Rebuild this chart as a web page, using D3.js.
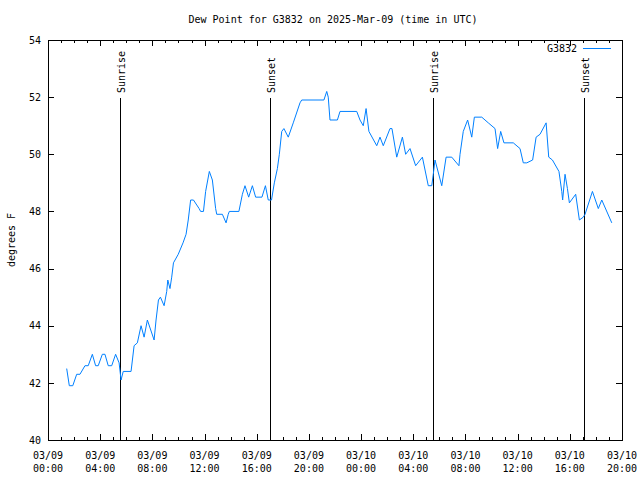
<!DOCTYPE html>
<html><head><meta charset="utf-8">
<script src="https://cdn.jsdelivr.net/npm/d3@7"></script>
<style>
html,body{margin:0;padding:0;background:#fff;}
svg{display:block;}
text{font-family:"DejaVu Sans Mono","Liberation Mono",monospace;font-size:10px;fill:#000;}
</style></head><body>
<svg id="c" width="640" height="480"></svg>
<script>
// ---- data ----
const times = [
"2025-03-09 01:26","2025-03-09 01:38","2025-03-09 01:54","2025-03-09 02:12","2025-03-09 02:27","2025-03-09 02:50",
"2025-03-09 03:05","2025-03-09 03:24","2025-03-09 03:39","2025-03-09 03:51","2025-03-09 04:10","2025-03-09 04:22",
"2025-03-09 04:37","2025-03-09 04:53","2025-03-09 05:11","2025-03-09 05:27","2025-03-09 05:36","2025-03-09 05:46",
"2025-03-09 06:22","2025-03-09 06:36","2025-03-09 06:51","2025-03-09 07:08","2025-03-09 07:22","2025-03-09 07:37",
"2025-03-09 08:08","2025-03-09 08:17","2025-03-09 08:28","2025-03-09 08:37","2025-03-09 08:54","2025-03-09 09:06",
"2025-03-09 09:11","2025-03-09 09:21","2025-03-09 09:29","2025-03-09 09:37","2025-03-09 09:59","2025-03-09 10:21",
"2025-03-09 10:35","2025-03-09 10:45","2025-03-09 10:56","2025-03-09 11:09","2025-03-09 11:35","2025-03-09 11:42",
"2025-03-09 11:55","2025-03-09 12:05","2025-03-09 12:22","2025-03-09 12:36","2025-03-09 12:51","2025-03-09 12:56",
"2025-03-09 13:22","2025-03-09 13:39","2025-03-09 13:49","2025-03-09 13:54","2025-03-09 14:38","2025-03-09 14:54",
"2025-03-09 15:06","2025-03-09 15:23","2025-03-09 15:40","2025-03-09 15:55","2025-03-09 16:24","2025-03-09 16:40",
"2025-03-09 16:53","2025-03-09 17:08","2025-03-09 17:21","2025-03-09 17:35","2025-03-09 17:44","2025-03-09 17:55",
"2025-03-09 18:05","2025-03-09 18:25","2025-03-09 18:48","2025-03-09 19:19","2025-03-09 19:27","2025-03-09 21:09",
"2025-03-09 21:22","2025-03-09 21:29","2025-03-09 21:37","2025-03-09 22:11","2025-03-09 22:23","2025-03-09 23:40",
"2025-03-09 23:55","2025-03-10 00:10","2025-03-10 00:23","2025-03-10 00:36","2025-03-10 01:12","2025-03-10 01:27",
"2025-03-10 01:42","2025-03-10 02:13","2025-03-10 02:22","2025-03-10 02:44","2025-03-10 03:10","2025-03-10 03:25",
"2025-03-10 03:45","2025-03-10 04:11","2025-03-10 04:42","2025-03-10 05:09","2025-03-10 05:25","2025-03-10 05:32",
"2025-03-10 05:40","2025-03-10 06:11","2025-03-10 06:31","2025-03-10 06:57","2025-03-10 07:30","2025-03-10 07:35",
"2025-03-10 07:50","2025-03-10 08:10","2025-03-10 08:29","2025-03-10 08:41","2025-03-10 09:15","2025-03-10 09:45",
"2025-03-10 10:16","2025-03-10 10:28","2025-03-10 10:42","2025-03-10 10:57","2025-03-10 11:40","2025-03-10 12:11",
"2025-03-10 12:26","2025-03-10 12:42","2025-03-10 13:09","2025-03-10 13:25","2025-03-10 13:43","2025-03-10 14:11",
"2025-03-10 14:23","2025-03-10 14:40","2025-03-10 15:10","2025-03-10 15:23","2025-03-10 15:27","2025-03-10 15:38",
"2025-03-10 15:49","2025-03-10 15:58","2025-03-10 16:27","2025-03-10 16:44","2025-03-10 17:02","2025-03-10 17:10",
"2025-03-10 17:44","2025-03-10 18:11","2025-03-10 18:27","2025-03-10 19:13"
];
const dewPoint = [
42.5,41.9,41.9,42.3,42.3,42.6,
42.6,43.0,42.6,42.6,43.0,43.0,
42.6,42.6,43.0,42.7,42.1,42.4,
42.4,43.3,43.4,44.0,43.6,44.2,
43.5,44.2,44.9,45.0,44.7,45.2,
45.6,45.3,45.7,46.2,46.5,46.9,
47.2,47.7,48.4,48.4,48.1,48.0,
48.0,48.7,49.4,49.1,48.1,47.9,
47.9,47.6,47.9,48.0,48.0,48.6,
48.9,48.5,48.9,48.5,48.5,48.9,
48.4,48.4,49.0,49.5,50.0,50.8,
50.9,50.6,51.1,51.8,51.9,51.9,
52.2,52.0,51.2,51.2,51.5,51.5,
51.2,51.0,51.6,50.8,50.3,50.6,
50.3,50.9,50.9,49.9,50.6,50.0,
50.2,49.6,49.9,48.9,48.9,49.3,
49.8,48.9,49.9,49.9,49.6,50.0,
50.8,51.2,50.6,51.3,51.3,51.1,
50.9,50.2,50.8,50.4,50.4,50.2,
49.7,49.7,49.8,50.6,50.7,51.1,
49.9,49.8,49.4,48.7,48.4,49.3,
48.8,48.3,48.6,47.7,47.8,47.9,
48.7,48.1,48.4,47.6
];
const eventTimes = ["2025-03-09 05:33","2025-03-09 17:04","2025-03-10 05:35","2025-03-10 17:07"];
const eventLabels = ["Sunrise","Sunset","Sunrise","Sunset"];
const yTicks = [40,42,44,46,48,50,52,54];
const xDomain = ["2025-03-09 00:00","2025-03-10 20:00"];
const seriesName = "G3832";
const titleText = "Dew Point for G3832 on 2025-Mar-09 (time in UTC)";
const yLabel = "degrees F";

// ---- chart ----
const parse = d3.utcParse("%Y-%m-%d %H:%M");
const L = 48, R = 622, T = 40, B = 440;
const x = d3.scaleUtc().domain(xDomain.map(parse)).range([L, R]);
const y = d3.scaleLinear().domain([40, 54]).range([B, T]);
const svg = d3.select("#c");
svg.append("rect").attr("width", 640).attr("height", 480).attr("fill", "#fff");

const xMajor = d3.utcHour.every(4).range(x.domain()[0], d3.utcMinute.offset(x.domain()[1], 1));
const xMinor = d3.utcMinute.every(80).range(x.domain()[0], x.domain()[1]).filter(d => d.getUTCMinutes() !== 0 || d.getUTCHours() % 4 !== 0);

function clean(g){ g.select(".domain").remove(); g.selectAll("line").attr("stroke","#000").attr("shape-rendering","crispEdges"); }

svg.append("g").attr("transform", `translate(0,${B})`)
  .call(d3.axisBottom(x).tickValues(xMajor).tickSizeInner(-6).tickSizeOuter(0).tickFormat("")).call(clean);
svg.append("g").attr("transform", `translate(0,${T})`)
  .call(d3.axisTop(x).tickValues(xMajor).tickSizeInner(-6).tickSizeOuter(0).tickFormat("")).call(clean);
svg.append("g").attr("transform", `translate(0,${B})`)
  .call(d3.axisBottom(x).tickValues(xMinor).tickSizeInner(-3).tickSizeOuter(0).tickFormat("")).call(clean);
svg.append("g").attr("transform", `translate(0,${T})`)
  .call(d3.axisTop(x).tickValues(xMinor).tickSizeInner(-3).tickSizeOuter(0).tickFormat("")).call(clean);
const yl = svg.append("g").attr("transform", `translate(${L},0)`)
  .call(d3.axisLeft(y).tickValues(yTicks).tickSizeInner(-6).tickSizeOuter(0).tickPadding(7).tickFormat(d3.format("d"))).call(clean);
yl.attr("font-family", null).attr("font-size", null);
yl.selectAll("text").attr("fill", "#000");
svg.append("g").attr("transform", `translate(${R},0)`)
  .call(d3.axisRight(y).tickValues(yTicks).tickSizeInner(-6).tickSizeOuter(0).tickFormat("")).call(clean);

// x tick labels (two lines)
const fDate = d3.utcFormat("%m/%d"), fTime = d3.utcFormat("%H:%M");
const xl = svg.append("g").selectAll("text").data(xMajor).join("text")
  .attr("text-anchor", "middle");
xl.append("tspan").attr("x", d => x(d)).attr("y", 459).text(fDate);
xl.append("tspan").attr("x", d => x(d)).attr("y", 472).text(fTime);

// border
svg.append("rect").attr("x", L).attr("y", T).attr("width", R - L).attr("height", B - T)
  .attr("fill", "none").attr("stroke", "#000").attr("shape-rendering", "crispEdges");

// events
const ev = eventTimes.map((t, i) => ({t: parse(t), label: eventLabels[i]}));
svg.append("g").selectAll("line").data(ev).join("line")
  .attr("x1", d => x(d.t)).attr("x2", d => x(d.t)).attr("y1", 98).attr("y2", B)
  .attr("stroke", "#000").attr("shape-rendering", "crispEdges");
svg.append("g").selectAll("text").data(ev).join("text")
  .attr("transform", d => `translate(${x(d.t) + 1},93) rotate(-90)`)
  .attr("text-anchor", "start").attr("dy", "0.35em").text(d => d.label);

// series
const pts = times.map((t, i) => ({t: parse(t), v: dewPoint[i]}));
svg.append("path").datum(pts)
  .attr("fill", "none").attr("stroke", "#0080ff").attr("stroke-width", 1)
  .attr("d", d3.line().x(d => x(d.t)).y(d => y(d.v)));

// title & labels
svg.append("text").attr("x", 333).attr("y", 23).attr("text-anchor", "middle").text(titleText);
svg.append("text").attr("transform", "translate(11,240) rotate(-90)").attr("text-anchor", "middle")
  .attr("dy", "0.35em").text(yLabel);

// legend
svg.append("text").attr("x", 577).attr("y", 48).attr("dy", "0.35em").attr("text-anchor", "end").text(seriesName);
svg.append("line").attr("x1", 583).attr("x2", 611).attr("y1", 48).attr("y2", 48)
  .attr("stroke", "#0080ff").attr("shape-rendering", "crispEdges");
</script>
</body></html>
